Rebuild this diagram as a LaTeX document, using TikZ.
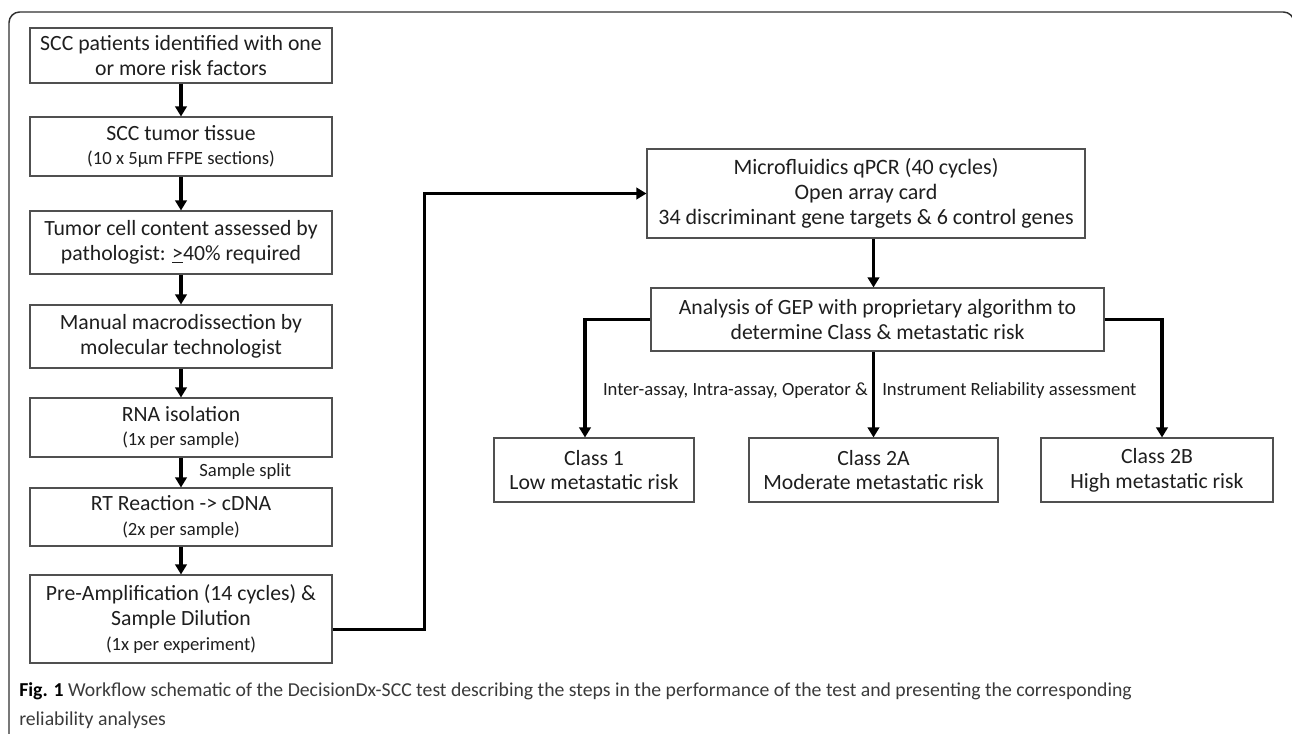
\documentclass[tikz,border=0pt]{standalone}
\usepackage{fontspec}
\setmainfont{Carlito}
\usetikzlibrary{arrows.meta}
\definecolor{boxgray}{HTML}{505050}
\definecolor{framegray}{HTML}{303030}
\definecolor{captext}{HTML}{3A3A3A}
\definecolor{boxtext}{HTML}{1E1E1E}
\begin{document}
\begin{tikzpicture}[x=0.75pt,y=-0.75pt,
  box/.style={draw=boxgray, line width=0.8pt, inner sep=0pt, align=center,
    font=\fontsize{16.3}{18.6}\selectfont, text=boxtext},
  conn/.style={line width=2.3pt, -{Triangle[length=7.5pt,width=8.5pt]}},
  lbl/.style={inner sep=0pt, font=\fontsize{14}{16}\selectfont, text=boxtext},
  capline/.style={inner sep=0pt, anchor=west, font=\fontsize{14.8}{16}\selectfont, text=captext}]
\useasboundingbox (0,0) rectangle (1292,733);
\clip (0,0) rectangle (1292,733);
\newcommand{\subl}{\fontsize{14}{18.6}\selectfont}
% outer frame
\draw[framegray, line width=1.1pt, rounded corners=8pt] (9,760) -- (9,12) -- (1294,12) -- (1294,760);
% left column
\node[box, minimum width=226.5pt, minimum height=41.25pt] (b1) at (181,55.5)
  {SCC patients identified with one\\or more risk factors};
\node[box, minimum width=226.5pt, minimum height=44.25pt] (b2) at (181,146.5)
  {SCC tumor tissue\\{\subl (10 x 5µm FFPE sections)}};
\node[box, minimum width=226.5pt, minimum height=47.25pt] (b3) at (181,242.5)
  {Tumor cell content assessed by\\pathologist: \underline{>}40\% required};
\node[box, minimum width=226.5pt, minimum height=47.25pt] (b4) at (181,336.5)
  {Manual macrodissection by\\molecular technologist};
\node[box, minimum width=226.5pt, minimum height=44.25pt] (b5) at (181,427.5)
  {RNA isolation\\{\subl (1x per sample)}};
\node[box, minimum width=226.5pt, minimum height=43.5pt] (b6) at (181,517)
  {RT Reaction -> cDNA\\{\subl (2x per sample)}};
\node[box, minimum width=226.5pt, minimum height=66pt] (b7) at (181,619)
  {Pre-Amplification (14 cycles) \&\\Sample Dilution\\{\subl (1x per experiment)}};
\draw[conn] (b1) -- (b2);
\draw[conn] (b2) -- (b3);
\draw[conn] (b3) -- (b4);
\draw[conn] (b4) -- (b5);
\draw[conn] (b5) -- (b6);
\draw[conn] (b6) -- (b7);
\node[lbl, anchor=west] (split) at (199,472) {Sample split};
% right part
\node[box, minimum width=328.5pt, minimum height=66.75pt, font=\fontsize{16.5}{19}\selectfont] (mf) at (866,193.5)
  {Microfluidics qPCR (40 cycles)\\Open array card\\34 discriminant gene targets \& 6 control genes};
\node[box, minimum width=339.75pt, minimum height=47.25pt] (an) at (877.5,319.5)
  {Analysis of GEP with proprietary algorithm to\\determine Class \& metastatic risk};
\node[box, minimum width=150pt, minimum height=48pt] (c1) at (594,470)
  {Class 1\\Low metastatic risk};
\node[box, minimum width=186.75pt, minimum height=48pt] (c2a) at (873.5,470)
  {Class 2A\\Moderate metastatic risk};
\node[box, minimum width=174pt, minimum height=48pt] (c2b) at (1157,470)
  {Class 2B\\High metastatic risk};
\draw[conn] (b7.-4.5) -- ++(92,0) |- (mf.west);
\draw[conn] (mf.south -| c2a.north) -- (an.north -| c2a.north);
\draw[conn] (an.west) -| ([xshift=-6.75pt]c1.north);
\draw[conn] (an.south -| c2a.north) -- (c2a.north);
\draw[conn] (an.east) -| ([xshift=3.75pt]c2b.north);
\node[lbl, anchor=east] (lab1) at (868,391) {Inter-assay, Intra-assay, Operator \&};
\node[lbl, anchor=west] (lab2) at (882,391) {Instrument Reliability assessment};
% caption
\node[capline] (cap1) at (19,691) {{\color{black}\bfseries Fig. 1} Workflow schematic of the DecisionDx-SCC test describing the steps in the performance of the test and presenting the corresponding};
\node[capline] (cap2) at (19,720) {reliability analyses};
\end{tikzpicture}
\end{document}
